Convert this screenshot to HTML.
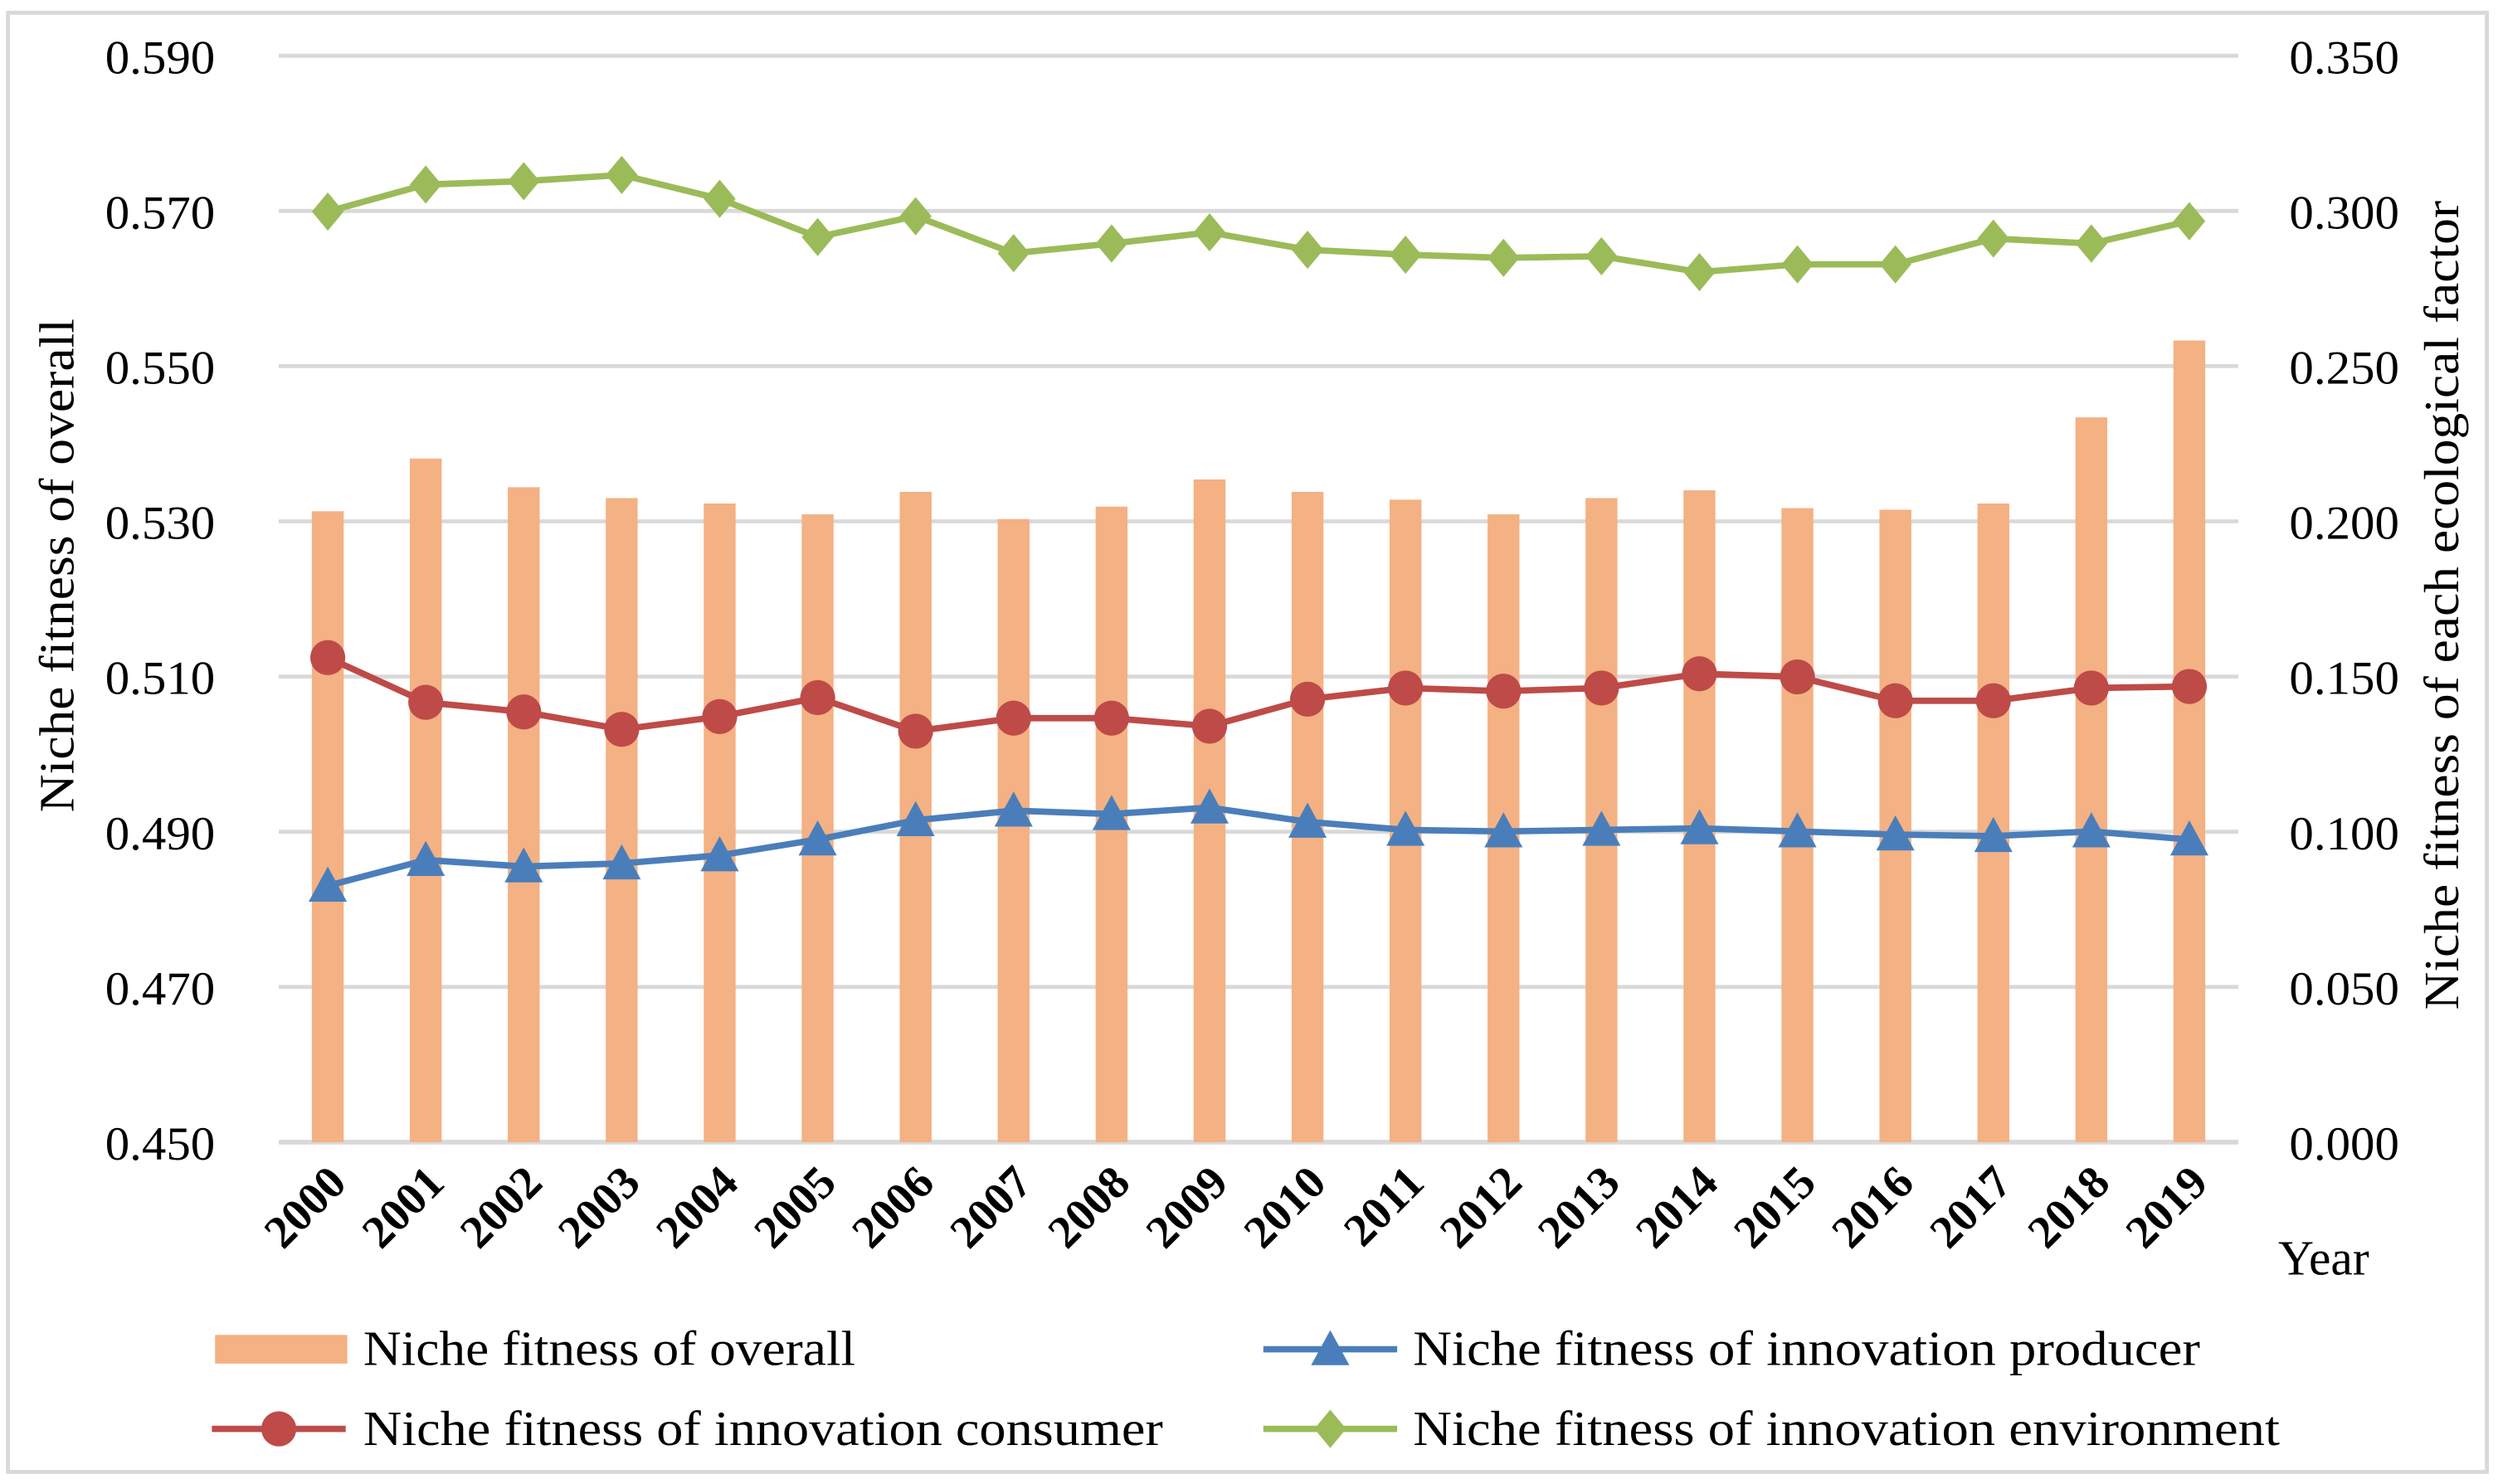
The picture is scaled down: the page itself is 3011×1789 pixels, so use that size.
<!DOCTYPE html>
<html><head><meta charset="utf-8"><style>
html,body{margin:0;padding:0;background:#fff}
svg{display:block}
text{font-family:"Liberation Serif",serif;fill:#000}
</style></head><body>
<svg id="chart" width="3011" height="1789" viewBox="0 0 1568 931.6" preserveAspectRatio="none" xmlns="http://www.w3.org/2000/svg">
<rect x="5" y="8" width="1556" height="916" fill="#fff" stroke="#d9d9d9" stroke-width="2.5"/>
<g id="grid"></g><g id="bars"></g><g id="lines"></g><g id="axes"></g>
<text transform="translate(46,355) rotate(-90)" text-anchor="middle" font-size="31" textLength="310" lengthAdjust="spacingAndGlyphs">Niche fitness of overall</text>
<text transform="translate(1543,380) rotate(-90)" text-anchor="middle" font-size="31" textLength="508" lengthAdjust="spacingAndGlyphs">Niche fitness of  each ecological factor</text>
<text x="1430" y="800" font-size="31">Year</text>
<g>
<rect x="135" y="838" width="83" height="18" fill="#f4b183"/>
<text x="228" y="857" font-size="31" textLength="309" lengthAdjust="spacingAndGlyphs">Niche fitness of overall</text>
<line x1="793" y1="847" x2="877" y2="847" stroke="#4a7ebb" stroke-width="4"/>
<polygon points="835,835 847,857 823,857" fill="#4a7ebb"/>
<text x="887" y="857" font-size="31" textLength="494" lengthAdjust="spacingAndGlyphs">Niche fitness of innovation producer</text>
<line x1="133" y1="897" x2="217" y2="897" stroke="#be4b48" stroke-width="4"/>
<circle cx="175" cy="897" r="11" fill="#be4b48"/>
<text x="228" y="907" font-size="31" textLength="502" lengthAdjust="spacingAndGlyphs">Niche fitness of innovation consumer</text>
<line x1="793" y1="897" x2="877" y2="897" stroke="#9bbb59" stroke-width="4"/>
<polygon points="835,885 845,897 835,909 825,897" fill="#9bbb59"/>
<text x="887" y="907" font-size="31" textLength="544" lengthAdjust="spacingAndGlyphs">Niche fitness of innovation environment</text>
</g>
</svg>
<script>
const years=["2000","2001","2002","2003","2004","2005","2006","2007","2008","2009","2010","2011","2012","2013","2014","2015","2016","2017","2018","2019"];
const overall=[0.5313,0.5381,0.5344,0.5330,0.5323,0.5309,0.5338,0.5303,0.5319,0.5354,0.5338,0.5328,0.5309,0.5330,0.5340,0.5317,0.5315,0.5323,0.5434,0.5533];
const environment=[0.2998,0.3085,0.3096,0.3116,0.3039,0.2916,0.2983,0.2864,0.2895,0.2931,0.2875,0.2859,0.2849,0.2854,0.2803,0.2828,0.2828,0.2911,0.2895,0.2967];
const consumer=[0.1561,0.1417,0.1386,0.1330,0.1371,0.1432,0.1324,0.1366,0.1366,0.1340,0.1427,0.1463,0.1453,0.1463,0.1509,0.1499,0.1422,0.1422,0.1463,0.1468];
const producer=[0.0826,0.0909,0.0888,0.0898,0.0924,0.0975,0.1037,0.1068,0.1057,0.1078,0.1032,0.1006,0.1001,0.1006,0.1011,0.1001,0.0991,0.0986,0.1001,0.0975];
const leftTicks=["0.450","0.470","0.490","0.510","0.530","0.550","0.570","0.590"];
const rightTicks=["0.000","0.050","0.100","0.150","0.200","0.250","0.300","0.350"];
const NS="http://www.w3.org/2000/svg";
const X0=175,X1=1405,YT=35,YB=717;
const band=(X1-X0)/years.length;
function xc(i){return X0+band*(i+0.5);}
function yL(v){return YB-(v-0.45)/(0.59-0.45)*(YB-YT);}
function yR(v){return YB-v/0.35*(YB-YT);}
function mk(tag,attrs,parent){const e=document.createElementNS(NS,tag);for(const k in attrs)e.setAttribute(k,attrs[k]);parent.appendChild(e);return e;}
const grid=document.getElementById('grid'),bars=document.getElementById('bars'),lines=document.getElementById('lines'),axes=document.getElementById('axes');
leftTicks.forEach((t,i)=>{
  const y=yL(parseFloat(t));
  const g=mk('line',{x1:X0,x2:X1,y1:y,y2:y,stroke:'#d9d9d9','stroke-width':i==0?3:2.5},grid);
  
  
  const l=mk('text',{x:135,y:y+11,'text-anchor':'end','font-size':30,textLength:69,lengthAdjust:'spacingAndGlyphs'},axes);l.textContent=t;
  
  
});
rightTicks.forEach(t=>{
  const y=yR(parseFloat(t));
  const l=mk('text',{x:1437,y:y+11,'font-size':30,textLength:69,lengthAdjust:'spacingAndGlyphs'},axes);l.textContent=t;
  
  
});
years.forEach((yr,i)=>{
  const cx=xc(i),top=yL(overall[i]);
  const b=mk('rect',{x:cx-10,y:top,width:20,height:YB-top,fill:'#f4b183'},bars);
  
  
  const l=mk('text',{transform:`translate(${cx+13},${744}) rotate(-45)`,'text-anchor':'end','font-size':29,'font-weight':'bold'},axes);l.textContent=yr;
  
  
});
function series(vals,color,name,marker){
  const pts=vals.map((v,i)=>[xc(i),yR(v)]);
  const p=mk('polyline',{points:pts.map(p=>p.join(',')).join(' '),fill:'none',stroke:color,'stroke-width':4,'stroke-linejoin':'round'},lines);
  
  
  pts.forEach(([x,y])=>{
    let m;
    if(marker=='circle')m=mk('circle',{cx:x,cy:y,r:11,fill:color},lines);
    else if(marker=='tri')m=mk('polygon',{points:`${x},${y-12} ${x+12},${y+10} ${x-12},${y+10}`,fill:color},lines);
    else m=mk('polygon',{points:`${x},${y-12} ${x+10},${y} ${x},${y+12} ${x-10},${y}`,fill:color},lines);
    
    
  });
}
series(environment,'#9bbb59','environment','diamond');
series(consumer,'#be4b48','consumer','circle');
series(producer,'#4a7ebb','producer','tri');
</script>
</body></html>
